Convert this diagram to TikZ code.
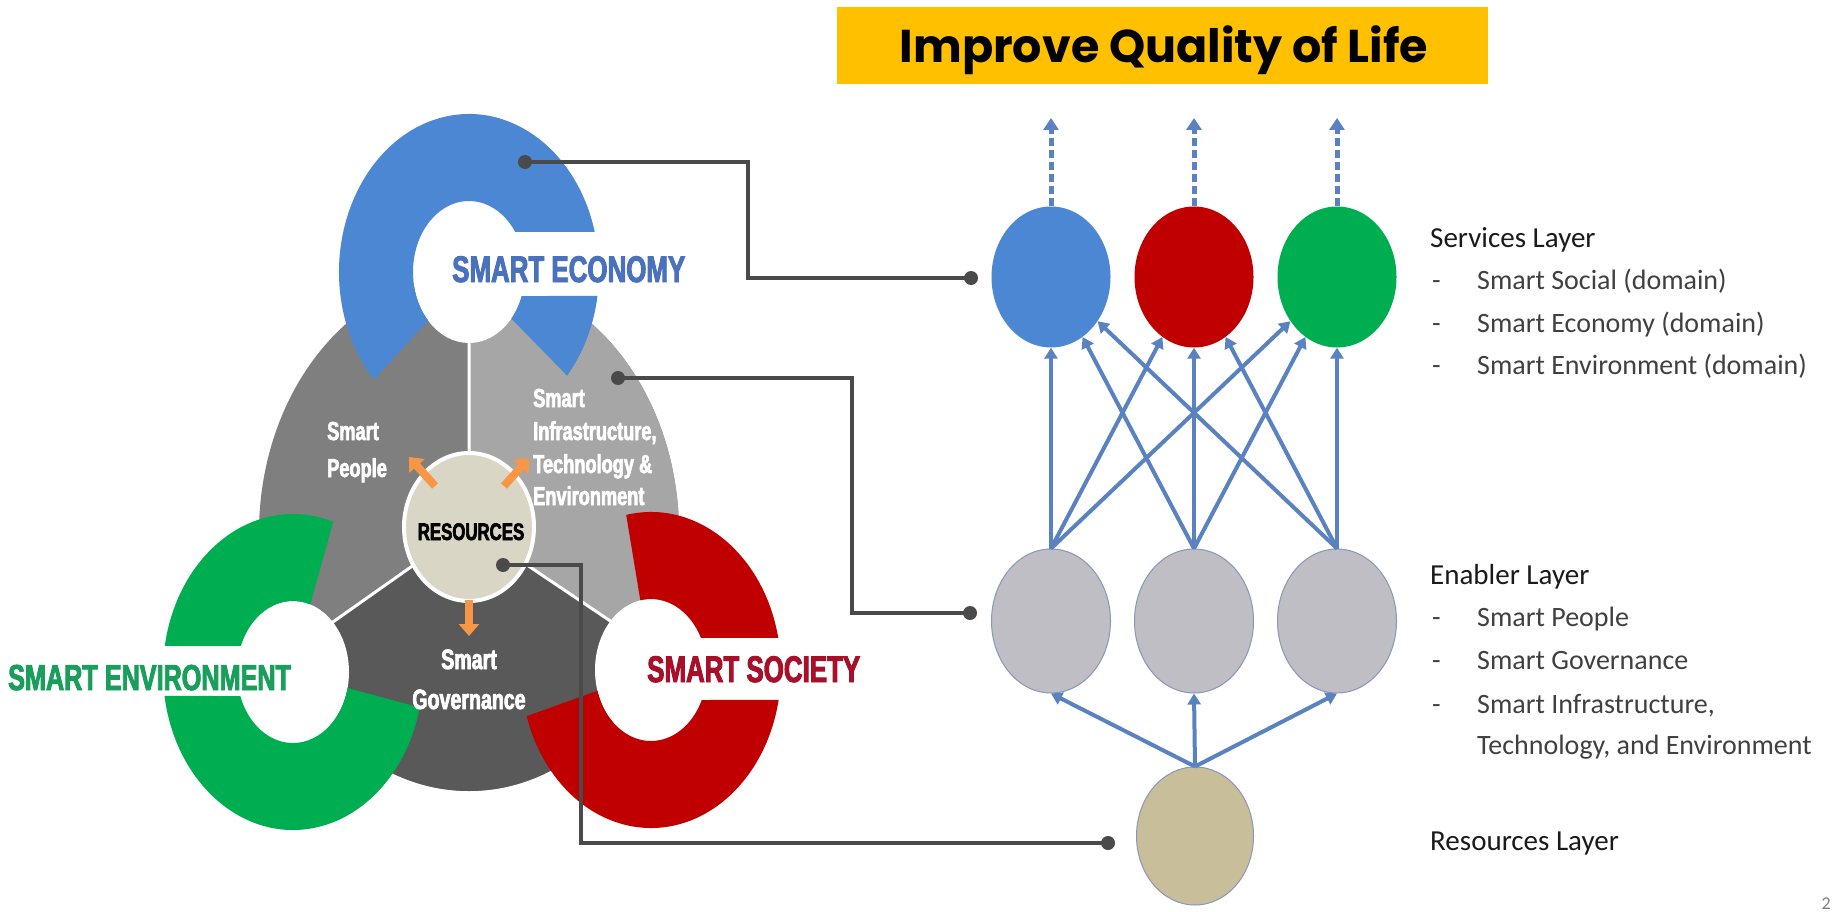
\documentclass[tikz,border=0pt]{standalone}
\usepackage{fontspec}
\setmainfont{Carlito}
\newfontfamily\condfont{Liberation Sans}[FakeStretch=0.7, FakeBold=2.5]
\newfontfamily\titlefont{Poppins}
\usetikzlibrary{arrows.meta,shapes.geometric}
\definecolor{cBlue}{HTML}{4C87D3}
\definecolor{cBlueTxt}{HTML}{4A72BC}
\definecolor{cRed}{HTML}{C00000}
\definecolor{cRedTxt}{HTML}{A8102A}
\definecolor{cGreen}{HTML}{00AE52}
\definecolor{cGreenTxt}{HTML}{1A9E5C}
\definecolor{gLight}{HTML}{A6A6A6}
\definecolor{gMid}{HTML}{7F7F7F}
\definecolor{gDark}{HTML}{595959}
\definecolor{resFill}{HTML}{D9D6C6}
\definecolor{cOrange}{HTML}{F79646}
\definecolor{connC}{HTML}{4A4A4A}
\definecolor{netBlue}{HTML}{5A82C0}
\definecolor{ellGray}{HTML}{BEBEC4}
\definecolor{ellBeige}{HTML}{C8BF9A}
\definecolor{ellEdge}{HTML}{8A96B8}
\definecolor{yel}{HTML}{FFC000}
\definecolor{headC}{HTML}{1A1A1A}
\definecolor{itemC}{HTML}{404040}
\begin{document}
\begin{tikzpicture}[x=1pt,y=-1pt,
  ringtxt/.style={inner sep=0, anchor=base west, font=\condfont\bfseries\fontsize{37}{37}\selectfont},
  graytxt/.style={inner sep=0, text=white, font=\condfont\bfseries\fontsize{26}{26}\selectfont},
  headtxt/.style={inner sep=0, anchor=base west, text=headC, font=\fontsize{29}{29}\selectfont},
  itemtxt/.style={inner sep=0, anchor=base west, text=itemC, font=\fontsize{28}{28}\selectfont},
  netell/.style={ellipse, inner sep=0, minimum width=119pt, minimum height=141pt},
  netarr/.style={draw=netBlue, line width=4pt, -{Triangle[length=11pt,width=13pt]}},
  dasharr/.style={draw=netBlue, line width=5pt, dash pattern=on 8pt off 4pt, -{Triangle[length=12pt,width=15pt]}},
  conn/.style={draw=connC, line width=4.5pt},
  dot/.style={circle, fill=connC, minimum size=14pt, inner sep=0},
  orarr/.style={draw=cOrange, line width=8pt, -{Triangle[length=12pt,width=20pt]}}
]
\useasboundingbox (0,0) rectangle (1833,912);
\fill[white] (0,0) rectangle (1833,912);

% ---------- title ----------
\node[fill=yel, minimum width=651pt, minimum height=77pt, inner sep=0] (title) at (1162.5,45.5) {};
\node[inner sep=0, anchor=base, font=\titlefont\bfseries\fontsize{46}{46}\selectfont] (titleT) at (1164,63) {Improve Quality of Life};

% ---------- gray three-part body ----------
\begin{scope}
  \clip (469,533) ellipse [x radius=210, y radius=258];
  \fill[gMid] (250,260) rectangle (690,800);
  \fill[gLight] (469,526) -- ([shift={(270:700)}]469,526) -- ([shift={(330:700)}]469,526) -- ([shift={(33.9:700)}]469,526) -- cycle;
  \fill[gDark] (469,526) -- ([shift={(33.9:700)}]469,526) -- ([shift={(90:700)}]469,526) -- ([shift={(144.8:700)}]469,526) -- cycle;
  \draw[white, line width=3pt] (469,526) -- ([shift={(270:700)}]469,526)
       (469,526) -- ([shift={(33.9:700)}]469,526)
       (469,526) -- ([shift={(144.8:700)}]469,526);
\end{scope}
\fill[white] (480,232) rectangle (600,296);

% inner white discs of the rings
\fill[white] (469,272) ellipse [x radius=56, y radius=71];
\fill[white] (293,672) ellipse [x radius=56, y radius=71];
\fill[white] (651,670) ellipse [x radius=56, y radius=71];

% ---------- blue ring (economy) ----------
\fill[cBlue] ([shift={(-14.7:130 and 158)}]469,272) arc[start angle=-14.7, end angle=-223, x radius=130, y radius=158]
   -- ([shift={(137:56 and 71)}]469,272) arc[start angle=137, end angle=325.7, x radius=56, y radius=71] -- cycle;
\fill[cBlue] ([shift={(8.7:130 and 158)}]469,272) arc[start angle=8.7, end angle=41, x radius=130, y radius=158]
   -- ([shift={(41:56 and 71)}]469,272) arc[start angle=41, end angle=19.8, x radius=56, y radius=71] -- cycle;

% ---------- green ring (environment) ----------
\fill[cGreen] ([shift={(189.5:130 and 158)}]293,672) arc[start angle=189.5, end angle=288, x radius=130, y radius=158]
   -- ([shift={(288:56 and 71)}]293,672) arc[start angle=288, end angle=201.5, x radius=56, y radius=71] -- cycle;
\fill[cGreen] ([shift={(171.3:130 and 158)}]293,672) arc[start angle=171.3, end angle=13, x radius=130, y radius=158]
   -- ([shift={(13:56 and 71)}]293,672) arc[start angle=13, end angle=160.2, x radius=56, y radius=71] -- cycle;

% ---------- red ring (society) ----------
\fill[cRed] ([shift={(-11.7:130 and 158)}]651,670) arc[start angle=-11.7, end angle=-101, x radius=130, y radius=158]
   -- ([shift={(-101:56 and 71)}]651,670) arc[start angle=-101, end angle=-26.8, x radius=56, y radius=71] -- cycle;
\fill[cRed] ([shift={(10.9:130 and 158)}]651,670) arc[start angle=10.9, end angle=163, x radius=130, y radius=158]
   -- ([shift={(163:56 and 71)}]651,670) arc[start angle=163, end angle=25, x radius=56, y radius=71] -- cycle;

% ---------- resources disc ----------
\node[ellipse, fill=resFill, draw=white, line width=4pt, minimum width=130pt, minimum height=148pt, inner sep=0] (res) at (469,527) {};
\coordinate (oa1) at (435,486); \coordinate (ob1) at (409,457);
\coordinate (oa2) at (504,486); \coordinate (ob2) at (529,458);
\coordinate (oa3) at (469,600); \coordinate (ob3) at (469,636);
\draw[orarr] (oa1) -- (ob1);
\draw[orarr] (oa2) -- (ob2);
\draw[orarr] (oa3) -- (ob3);

% ---------- left texts ----------
\node[inner sep=0, anchor=base, font=\condfont\bfseries\fontsize{24}{24}\selectfont] (resT) at (471,540) {RESOURCES};
\node[ringtxt, text=cBlueTxt] (tEco) at (452,282) {SMART ECONOMY};
\node[ringtxt, text=cRedTxt] (tSoc) at (647,682) {SMART SOCIETY};
\node[ringtxt, text=cGreenTxt, font=\condfont\bfseries\fontsize{36}{36}\selectfont] (tEnv) at (8,690) {SMART ENVIRONMENT};

\node[graytxt, anchor=base west] (p1) at (327,440) {Smart};
\node[graytxt, anchor=base west] (p2) at (327,477) {People};
\node[graytxt, anchor=base west] (i1) at (533,407) {Smart};
\node[graytxt, anchor=base west] (i2) at (533,440) {Infrastructure,};
\node[graytxt, anchor=base west] (i3) at (533,473) {Technology \&};
\node[graytxt, anchor=base west] (i4) at (533,505) {Environment};
\node[graytxt, anchor=base, font=\condfont\bfseries\fontsize{28}{28}\selectfont] (g1) at (469,669) {Smart};
\node[graytxt, anchor=base, font=\condfont\bfseries\fontsize{28}{28}\selectfont] (g2) at (469,709) {Governance};

% ---------- network ----------
\node[netell, fill=cBlue] (s1) at (1051,277) {};
\node[netell, fill=cRed] (s2) at (1194,277) {};
\node[netell, fill=cGreen] (s3) at (1337,277) {};
\node[netell, fill=ellGray, draw=ellEdge, line width=1pt, minimum height=144pt] (e1) at (1051,621) {};
\node[netell, fill=ellGray, draw=ellEdge, line width=1pt, minimum height=144pt] (e2) at (1194,621) {};
\node[netell, fill=ellGray, draw=ellEdge, line width=1pt, minimum height=144pt] (e3) at (1337,621) {};
\node[netell, fill=ellBeige, draw=ellEdge, line width=1pt, minimum width=117pt, minimum height=138pt] (r0) at (1195,836) {};

\coordinate (t1) at (1051,118);
\coordinate (t2) at (1194,118);
\coordinate (t3) at (1337,118);
\draw[dasharr] (s1.north) -- (t1);
\draw[dasharr] (s2.north) -- (t2);
\draw[dasharr] (s3.north) -- (t3);

\foreach \a in {e1,e2,e3}{
  \foreach \b in {s1,s2,s3}{
    \draw[netarr] (\a.north) -- (\b);
  }
}
\foreach \b in {e1,e2,e3}{
  \draw[netarr] (r0.north) -- (\b.south);
}

% ---------- connectors ----------
\node[dot] (c1a) at (525,162) {};
\node[dot] (c1b) at (971,278) {};
\node[dot] (c2a) at (618,378) {};
\node[dot] (c2b) at (970,613) {};
\node[dot] (c3a) at (503,565) {};
\node[dot] (c3b) at (1108,843) {};
\draw[conn] (c1a.center) -- ++(223,0) |- (c1b.center);
\draw[conn] (c2a.center) -- ++(234,0) |- (c2b.center);
\draw[conn] (c3a.center) -- ++(78,0) |- (c3b.center);

% ---------- layer descriptions ----------
\node[headtxt] (h1) at (1430,247) {Services Layer};
\node[itemtxt] (h1a) at (1432,289) {\makebox[45pt][l]{-}Smart Social (domain)};
\node[itemtxt] (h1b) at (1432,332) {\makebox[45pt][l]{-}Smart Economy (domain)};
\node[itemtxt] (h1c) at (1432,374) {\makebox[45pt][l]{-}Smart Environment (domain)};
\node[headtxt] (h2) at (1430,584) {Enabler Layer};
\node[itemtxt] (h2a) at (1432,626) {\makebox[45pt][l]{-}Smart People};
\node[itemtxt] (h2b) at (1432,669) {\makebox[45pt][l]{-}Smart Governance};
\node[itemtxt] (h2c) at (1432,713) {\makebox[45pt][l]{-}Smart Infrastructure,};
\node[itemtxt] (h2d) at (1477,754) {Technology, and Environment};
\node[headtxt] (h3) at (1430,850) {Resources Layer};
\node[inner sep=0, anchor=south east, text=gray, font=\fontsize{18}{18}\selectfont] (pg) at (1831,910) {2};
\end{tikzpicture}
\end{document}
